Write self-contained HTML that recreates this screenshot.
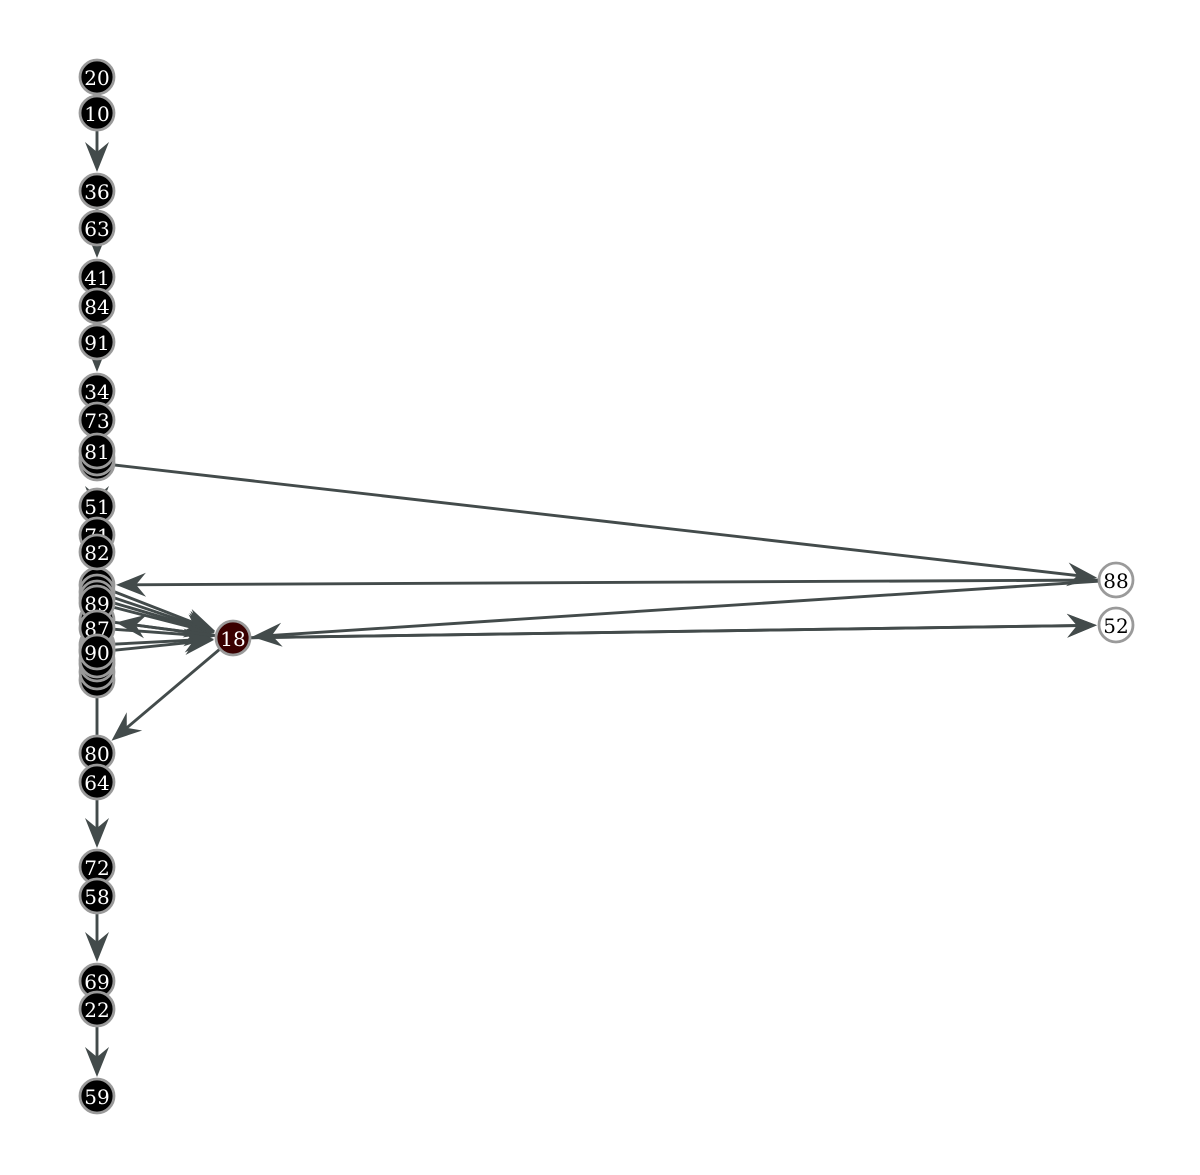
<!DOCTYPE html>
<html><head><meta charset="utf-8"><style>
html,body{margin:0;padding:0;background:#fff;}
svg{display:block;}
text{font-family:"DejaVu Serif","Liberation Serif",serif;font-size:20px;text-anchor:middle;dominant-baseline:central;}
</style></head><body>
<svg id="chart" width="1200" height="1175" viewBox="0 0 1200 1175" xmlns="http://www.w3.org/2000/svg">
<g id="edges"></g>
<g id="nodes"></g>
</svg>
<script>
const nodeIds = ["20","10","36","63","41","84","91","34","73","h1","h2","81","51","71","h3","h4","h5","82","h6","h7","h8","89","h9","87","h10","h11","h12","90","80","64","72","58","69","22","59","18","88","52"];
const nodeX = [97,97,97,97,97,97,97,97,97,97,97,97,97,97,97,97,97,97,97,97,97,97,97,97,97,97,97,97,97,97,97,97,97,97,97,233,1116,1116];
const nodeY = [77,113,191,228,277,306,342,391,420,463,458,451,506,535,680,672,664,552,585,592,598,603,620,628,645,660,650,652,753,782,867,896,981,1009,1096,638,580,625];
const nodeKind = ["b","b","b","b","b","b","b","b","b","b","b","b","b","b","b","b","b","b","b","b","b","b","b","b","b","b","b","b","b","b","b","b","b","b","b","r","w","w"];
const edgeFrom = ["10","64","58","22","h1","88","h6","h7","h8","89","h9","87","90","18","18","88","h10","18","18","63","84","91","73","51","71","h3","20","80","36","72","69"];
const edgeTo   = ["36","72","69","59","88","h6","18","18","18","18","18","18","18","52","52","18","18","80","h9","41","91","34","81","71","82","80","10","64","63","58","22"];
const edgeArrow= [1,1,1,1,1,1,1,1,1,1,1,1,1,1,1,1,1,1,1,1,1,1,1,1,1,0,0,0,0,0,0];
const NS="http://www.w3.org/2000/svg", R=17;
const idx = id => nodeIds.indexOf(id);
const px = i => nodeX[i], py = i => nodeY[i];
const eg=document.getElementById('edges'), ng=document.getElementById('nodes');
for(let k=0;k<edgeFrom.length;k++){
  const a=idx(edgeFrom[k]), b=idx(edgeTo[k]);
  const x1=px(a),y1=py(a),x2=px(b),y2=py(b);
  const dx=x2-x1,dy=y2-y1,L=Math.hypot(dx,dy)||1,ux=dx/L,uy=dy/L;
  const tx=x2-ux*(R+2),ty=y2-uy*(R+2);
  const line=document.createElementNS(NS,'line');
  
  
  line.setAttribute('x1',x1);line.setAttribute('y1',y1);
  line.setAttribute('x2',edgeArrow[k]?tx-ux*10:x2);line.setAttribute('y2',edgeArrow[k]?ty-uy*10:y2);
  line.setAttribute('stroke','#434b4b');line.setAttribute('stroke-width','2.9');
  eg.appendChild(line);
  if(edgeArrow[k]){
    const nx=-uy,ny=ux,l=30,w=12,ind=20;
    const p=[[tx,ty],[tx-ux*l+nx*w,ty-uy*l+ny*w],[tx-ux*ind,ty-uy*ind],[tx-ux*l-nx*w,ty-uy*l-ny*w]];
    const ar=document.createElementNS(NS,'polygon');
    
    
    ar.setAttribute('points',p.map(q=>q[0].toFixed(1)+','+q[1].toFixed(1)).join(' '));
    ar.setAttribute('fill','#434b4b');
    eg.appendChild(ar);
  }
}
const order=[...nodeIds.keys()].sort((a,b)=>(nodeIds[b].startsWith('h')?1:0)-(nodeIds[a].startsWith('h')?1:0));
for(const i of order){
  const g=document.createElementNS(NS,'g');
  
  
  const c=document.createElementNS(NS,'circle');
  
  
  c.setAttribute('cx',px(i));c.setAttribute('cy',py(i));c.setAttribute('r',R);
  const kind=nodeKind[i];
  c.setAttribute('fill',kind==='b'?'#000':kind==='r'?'#3a0000':'#fff');
  c.setAttribute('stroke','#9a9a9a');c.setAttribute('stroke-width','2.8');
  g.appendChild(c);
  if(!nodeIds[i].startsWith('h')){
    const t=document.createElementNS(NS,'text');
    
    
    t.setAttribute('x',px(i));t.setAttribute('y',py(i)+1);
    t.setAttribute('fill',kind==='w'?'#000':'#fff');
    t.textContent=nodeIds[i];
    g.appendChild(t);
  }
  ng.appendChild(g);
}
</script>
</body></html>
